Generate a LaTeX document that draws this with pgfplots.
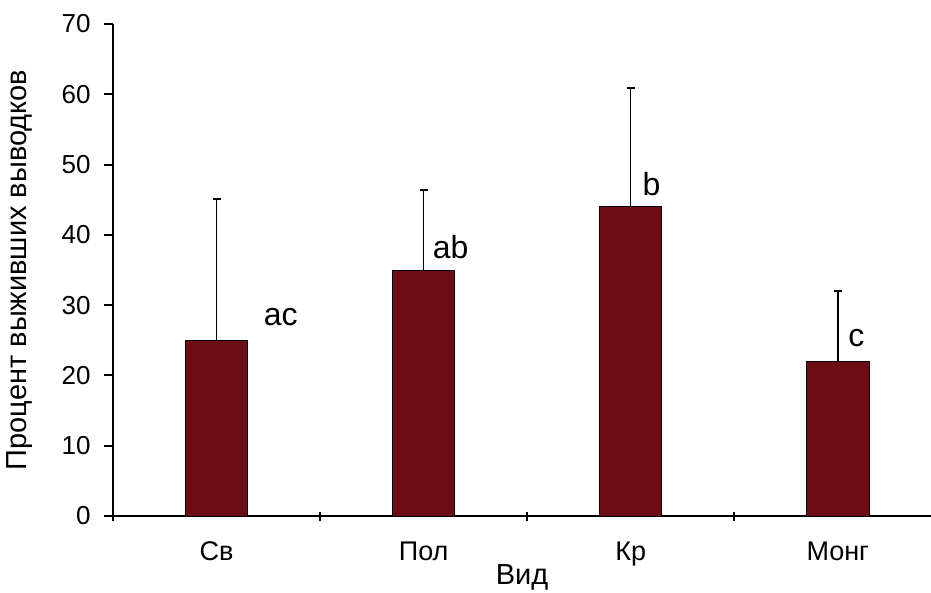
\documentclass[border=0pt]{standalone}
\usepackage{pgfplots}
\pgfplotsset{compat=1.18}
\usepackage{fontspec}
\setmainfont{Liberation Sans}
\definecolor{bardark}{RGB}{108,12,20}
\begin{document}
\begin{tikzpicture}
\begin{axis}[
  name=ax,
  scale only axis,
  width=818pt, height=492pt,
  xmin=-0.5, xmax=3.45,
  ymin=0, ymax=70,
  axis lines=left,
  axis line style={line width=2.4pt, -},
  xtick={-0.5,0.5,1.5,2.5,3.5},
  xticklabels={},
  extra x ticks={0,1,2,3},
  extra x tick labels={Св,Пол,Кр,Монг},
  extra x tick style={major tick length=0pt, tick label style={yshift=-22pt}},
  ytick={0,10,...,70},
  x tick style={line width=1.9pt, black},
  y tick style={line width=1.9pt, black},
  xtick align=center,
  ytick align=outside,
  major tick length=9pt,
  x tick label style={font=\fontsize{27}{30}\selectfont},
  y tick label style={font=\fontsize{26}{29}\selectfont, xshift=-10pt},
  /pgf/number format/assume math mode=true,
  xlabel={Вид},
  every axis x label/.style={at={(axis description cs:0.5,-0.124)}, anchor=center},
  xlabel style={font=\fontsize{29}{32}\selectfont},
  ylabel={Процент выживших выводков},
  every axis y label/.style={at={(axis description cs:-0.114,0.5)}, anchor=center, rotate=90},
  ylabel style={font=\fontsize{29}{32}\selectfont},
  clip=false,
]
\addplot[ybar, bar width=0.3, fill=bardark, draw=black, line width=0.6pt,
  error bars/.cd, y dir=plus, y explicit,
  error bar style={line width=1.5pt, black},
  error mark options={rotate=90, mark size=4pt, line width=1.8pt, black}]
  table[x=x, y=y, y error=e] {
x y e
0 25.0 20.1
1 34.9 11.5
2 44.1 16.8
3 22.0 10.0
};
\node[font=\fontsize{32}{35}\selectfont] at (axis cs:0.31,28.3) {ac};
\node[font=\fontsize{32}{35}\selectfont] at (axis cs:1.13,38.3) {ab};
\node[font=\fontsize{32}{35}\selectfont] at (axis cs:2.10,47.2) {b};
\node[font=\fontsize{32}{35}\selectfont] at (axis cs:3.09,25.3) {c};
\end{axis}
\pgfresetboundingbox
\path[use as bounding box] ([shift={(-113pt,-76pt)}]ax.south west) rectangle ++(931pt,592pt);
\end{tikzpicture}
\end{document}
